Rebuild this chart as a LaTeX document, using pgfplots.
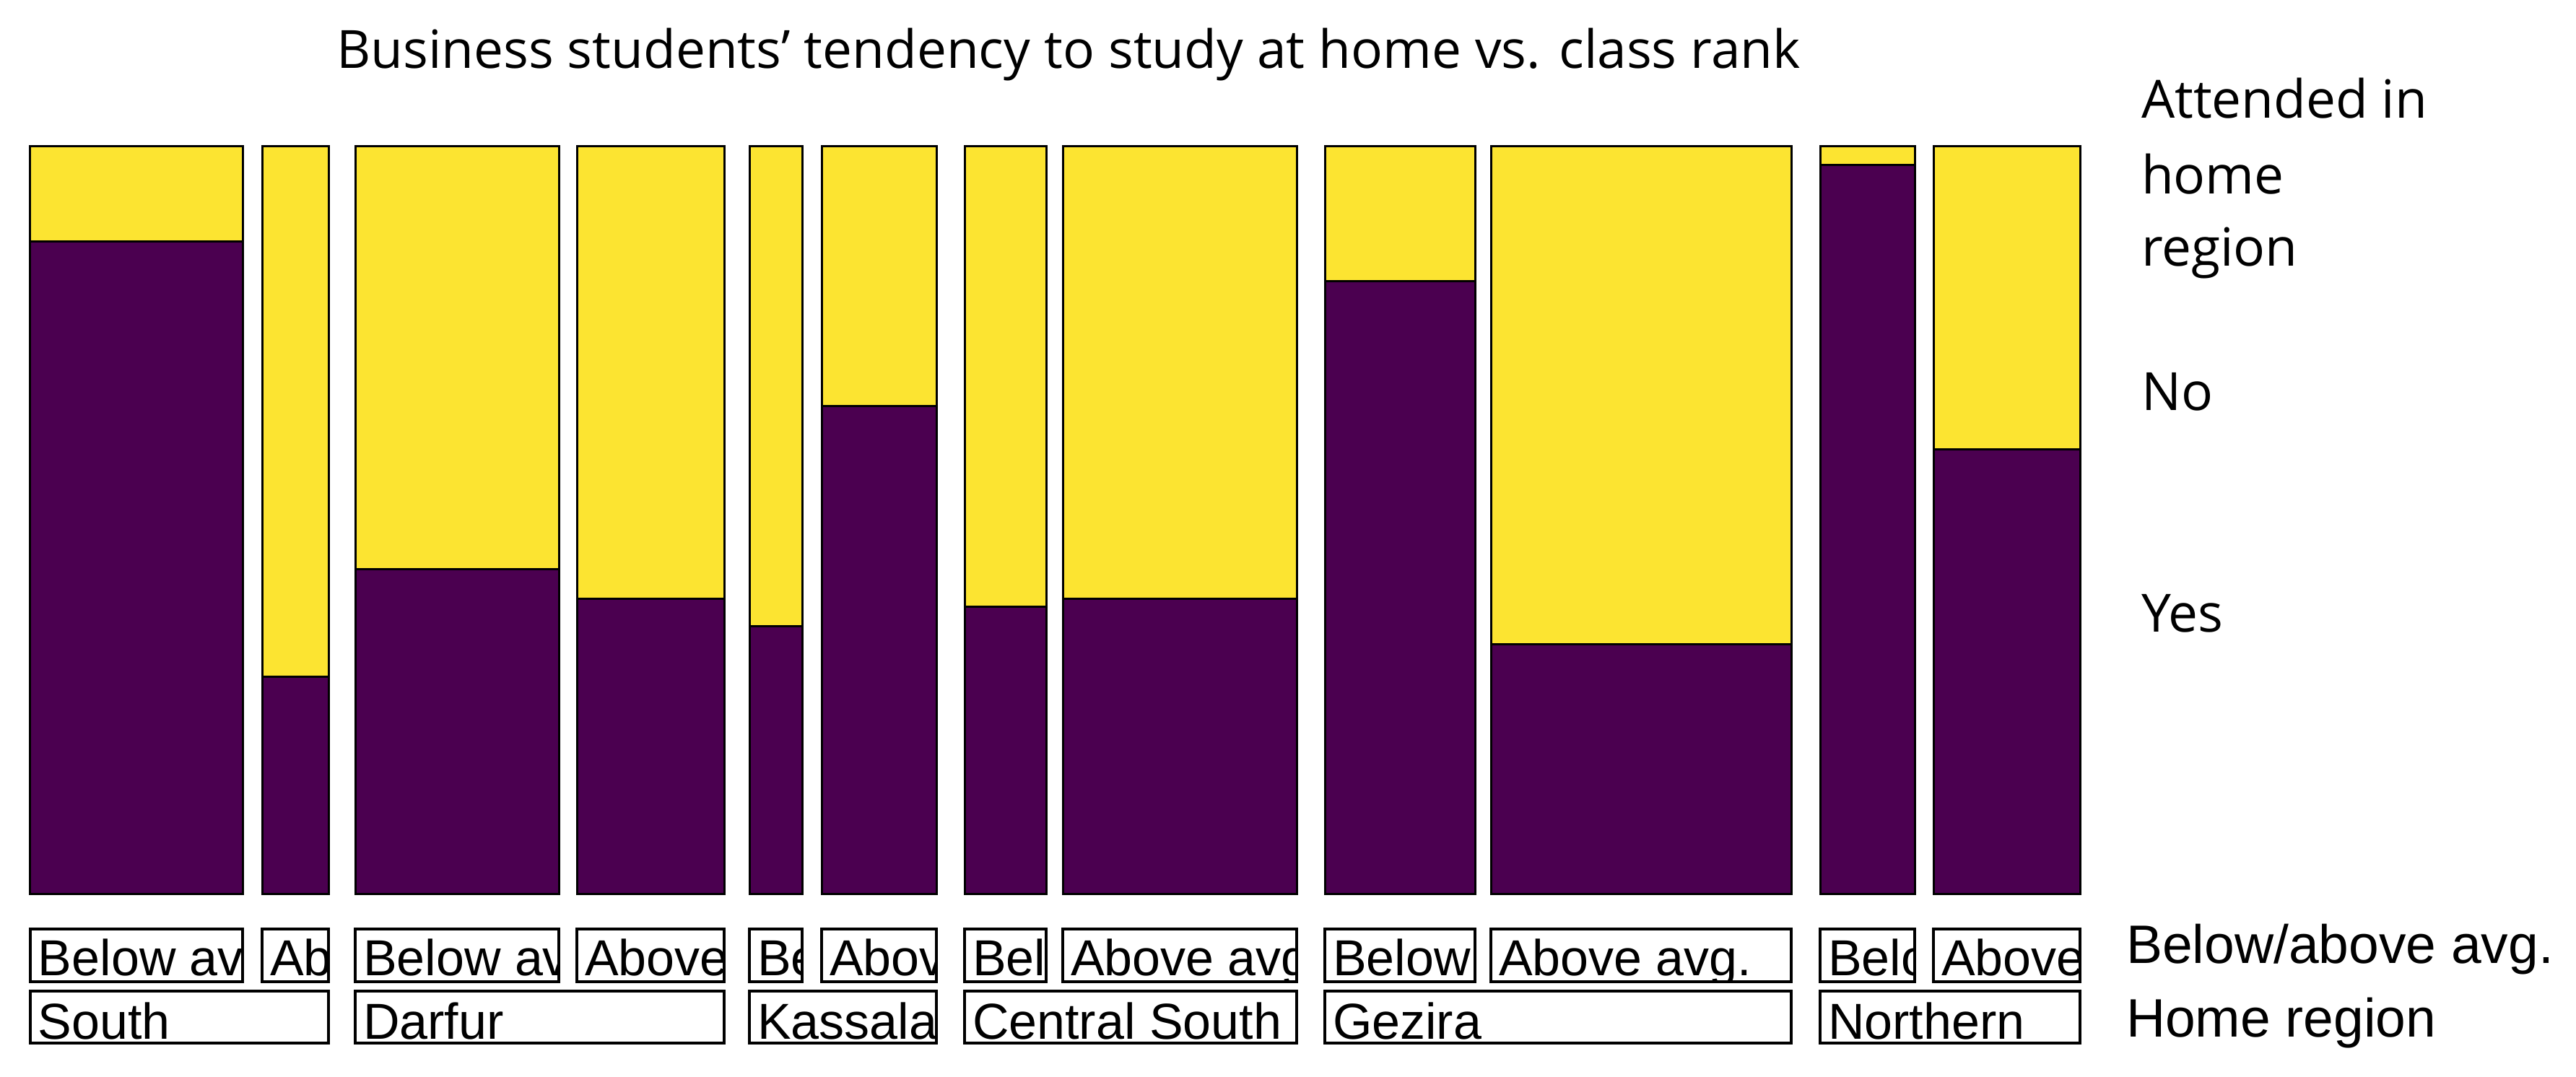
\documentclass[border=0pt]{standalone}
\usepackage{fontspec}
\setmainfont{Open Sans}
\newfontfamily\arialf{Liberation Sans}
\usepackage{pgfplots}
\pgfplotsset{compat=1.18}

\definecolor{vpurple}{HTML}{4B0050}
\definecolor{vyellow}{HTML}{FCE431}

% one mosaic column: left edge, right edge, share "Yes"
\newcommand{\mosaicbar}[3]{%
  \addplot[draw=black, fill=vyellow, line width=0.6pt] coordinates {(#1,#3) (#2,#3) (#2,1) (#1,1)} -- cycle;
  \addplot[draw=black, fill=vpurple, line width=0.6pt] coordinates {(#1,0) (#2,0) (#2,#3) (#1,#3)} -- cycle;
}
% label box: left, right, top, bottom, baseline, text
\newcommand{\labbox}[6]{%
  \begin{scope}
    \clip (axis cs:#1,#3) rectangle (axis cs:#2,#4);
    \node[anchor=base west, inner sep=0pt, font=\arialf\fontsize{14pt}{17pt}\selectfont]
      at ([xshift=2pt]axis cs:#1,#5) {#6};
  \end{scope}
  \draw[line width=0.75pt] (axis cs:#1,#3) rectangle (axis cs:#2,#4);
}

\begin{document}
\begin{tikzpicture}
\begin{axis}[
    width=567.8pt, height=207.2pt,
    scale only axis,
    xmin=42, xmax=2881,
    ymin=0, ymax=1,
    hide axis,
    clip=false,
    no markers,
]
% frame of the page (3568 x 1492 px)
\path (axis cs:0,-0.2442) rectangle (axis cs:3568,1.1959);

% South
\mosaicbar{42}{336}{0.873}
\mosaicbar{363}{455}{0.291}
% Darfur
\mosaicbar{492}{774}{0.435}
\mosaicbar{799}{1003}{0.395}
% Kassala
\mosaicbar{1038}{1111}{0.359}
\mosaicbar{1138}{1297}{0.653}
% Central South
\mosaicbar{1336}{1449}{0.385}
\mosaicbar{1472}{1796}{0.395}
% Gezira
\mosaicbar{1835}{2043}{0.820}
\mosaicbar{2065}{2481}{0.334}
% Northern
\mosaicbar{2521}{2652}{0.975}
\mosaicbar{2678}{2881}{0.595}

% below / above average row
\labbox{42}{336}{-0.0463}{-0.1168}{-0.1091}{Below avg.}
\labbox{363}{455}{-0.0463}{-0.1168}{-0.1091}{Above avg.}
\labbox{492}{774}{-0.0463}{-0.1168}{-0.1091}{Below avg.}
\labbox{799}{1003}{-0.0463}{-0.1168}{-0.1091}{Above avg.}
\labbox{1038}{1111}{-0.0463}{-0.1168}{-0.1091}{Below avg.}
\labbox{1138}{1297}{-0.0463}{-0.1168}{-0.1091}{Above avg.}
\labbox{1336}{1449}{-0.0463}{-0.1168}{-0.1091}{Below avg.}
\labbox{1472}{1796}{-0.0463}{-0.1168}{-0.1091}{Above avg.}
\labbox{1835}{2043}{-0.0463}{-0.1168}{-0.1091}{Below avg.}
\labbox{2065}{2481}{-0.0463}{-0.1168}{-0.1091}{Above avg.}
\labbox{2521}{2652}{-0.0463}{-0.1168}{-0.1091}{Below avg.}
\labbox{2678}{2881}{-0.0463}{-0.1168}{-0.1091}{Above avg.}

% home region row
\labbox{42}{455}{-0.1293}{-0.1988}{-0.1940}{South}
\labbox{492}{1003}{-0.1293}{-0.1988}{-0.1940}{Darfur}
\labbox{1038}{1297}{-0.1293}{-0.1988}{-0.1940}{Kassala}
\labbox{1336}{1796}{-0.1293}{-0.1988}{-0.1940}{Central South}
\labbox{1835}{2481}{-0.1293}{-0.1988}{-0.1940}{Gezira}
\labbox{2521}{2881}{-0.1293}{-0.1988}{-0.1940}{Northern}

% titles and side labels
\node[anchor=base, inner sep=0pt, font=\fontsize{14.6pt}{17pt}\selectfont]
  at (axis cs:1480,1.105) {Business students’ tendency to study at home vs. class rank};
\begin{scope}[every node/.style={anchor=base west, inner sep=0pt, font=\fontsize{14.6pt}{17pt}\selectfont}]
\node at (axis cs:2965,1.0376) {Attended in};
\node at (axis cs:2965,0.9363) {home};
\node at (axis cs:2965,0.8398) {region};
\node at (axis cs:2965,0.6467) {No};
\node at (axis cs:2965,0.3504) {Yes};
\end{scope}
\node[anchor=base west, inner sep=0pt, font=\arialf\fontsize{15pt}{18pt}\selectfont]
  at (axis cs:2944,-0.0927) {Below/above avg.};
\node[anchor=base west, inner sep=0pt, font=\arialf\fontsize{15pt}{18pt}\selectfont]
  at (axis cs:2944,-0.1911) {Home region};
\end{axis}
\end{tikzpicture}
\end{document}
